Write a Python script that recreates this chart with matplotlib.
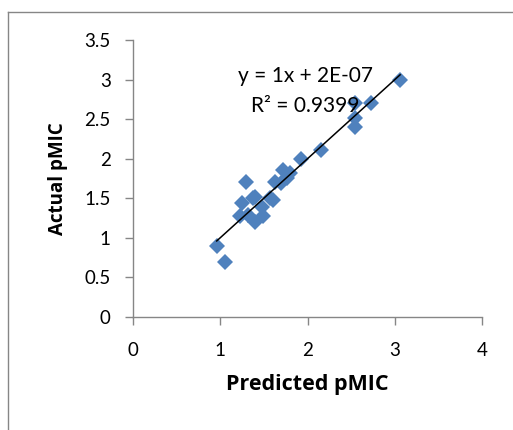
"""Actual vs predicted pMIC scatter with linear trendline."""
import matplotlib
matplotlib.use("Agg")
import matplotlib.pyplot as plt
from matplotlib.lines import Line2D
import numpy as np

plt.rcParams["font.family"] = ["Lato", "DejaVu Sans"]

# values
predicted = [0.96, 1.055, 1.30, 1.25, 1.23, 1.38, 1.32, 1.40, 1.49, 1.48,
             1.40, 1.61, 1.57, 1.63, 1.72, 1.76, 1.80, 1.70, 1.92, 2.15,
             2.54, 2.54, 2.54, 2.73, 3.06]
actual = [0.90, 0.70, 1.71, 1.44, 1.28, 1.50, 1.29, 1.20, 1.27, 1.39,
          1.52, 1.48, 1.50, 1.71, 1.86, 1.75, 1.82, 1.69, 2.00, 2.11,
          2.70, 2.51, 2.40, 2.70, 3.00]
slope, intercept = 1.0, 2e-7
eq_text = "y = 1x + 2E-07"
r2_text = "R² = 0.9399"
x_ticks = [0, 1, 2, 3, 4]
y_ticks = [0, 0.5, 1, 1.5, 2, 2.5, 3, 3.5]

fig = plt.figure(figsize=(5.13, 4.30), dpi=100)
ax = fig.add_axes([0.259, 0.263, 0.681, 0.644])

grey = "#868686"
ax.plot(predicted, actual, linestyle="none", marker="D", markersize=8.6,
        color="#4F81BD", markeredgewidth=0, zorder=2)

xs = np.array([min(predicted), max(predicted)])
ax.plot(xs, slope * xs + intercept, color="black", linewidth=1.1, zorder=3)

ax.text(0.493, 0.87, eq_text, transform=ax.transAxes, ha="center",
        va="center", fontsize=15)
ax.text(0.493, 0.762, r2_text, transform=ax.transAxes, ha="center",
        va="center", fontsize=15)

ax.set_xlim(0, 4)
ax.set_ylim(0, 3.5)
ax.set_xticks(x_ticks, [str(t) for t in x_ticks])
ax.set_yticks(y_ticks, ["0", "0.5", "1", "1.5", "2", "2.5", "3", "3.5"])
ax.tick_params(direction="out", length=6, width=1, color=grey,
               labelsize=13.5)
ax.tick_params(axis="y", pad=10)
ax.tick_params(axis="x", pad=12)
for side in ("top", "right"):
    ax.spines[side].set_visible(False)
for side in ("left", "bottom"):
    ax.spines[side].set_color(grey)
    ax.spines[side].set_linewidth(1)

label_font = ["Open Sans", "DejaVu Sans"]
ax.set_xlabel("Predicted pMIC", fontsize=15.5, fontweight="bold",
              family=label_font, labelpad=11)
ax.set_ylabel("Actual pMIC", fontsize=13.5, fontweight="bold",
              family=label_font, labelpad=12)

# outer chart frame (only top and left edges visible in the crop)
fig.add_artist(Line2D([8 / 513, 1], [1 - 12 / 430, 1 - 12 / 430],
                      transform=fig.transFigure, color=grey, linewidth=1))
fig.add_artist(Line2D([8 / 513, 8 / 513], [0, 1 - 12 / 430],
                      transform=fig.transFigure, color=grey, linewidth=1))

fig.savefig("out.png", dpi=100)
plt.close(fig)
